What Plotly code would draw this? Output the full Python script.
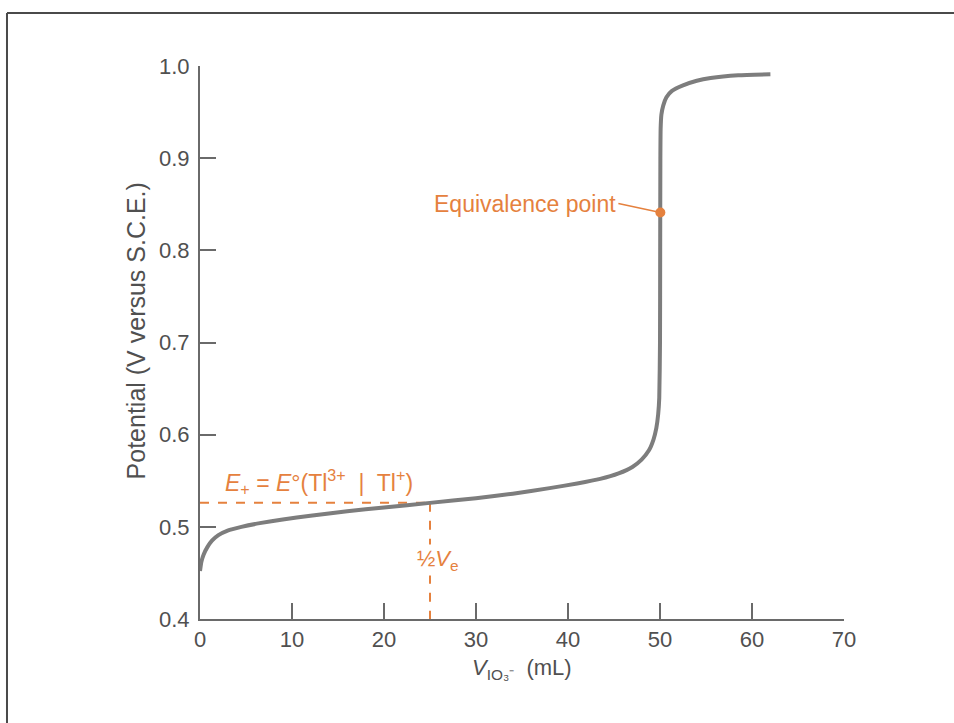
import plotly.graph_objects as go

# Titration curve
volume_ml = [0, 0.15, 0.4, 0.8, 1.3, 2, 3, 4.5, 6.5, 9, 12, 16, 20, 25, 30, 34, 38, 41,
             43.5, 45.5, 47, 48, 48.8, 49.3, 49.6, 49.8, 49.92, 50.0, 50.02, 50.04,
             50.07, 50.15, 50.35, 50.7, 51.3, 52.5, 54, 55.5, 58.5, 62]
potential_v = [0.452, 0.462, 0.470, 0.478, 0.485, 0.491, 0.496, 0.500, 0.504, 0.508,
               0.512, 0.517, 0.521, 0.526, 0.531, 0.536, 0.542, 0.547, 0.552, 0.558,
               0.565, 0.573, 0.583, 0.595, 0.607, 0.622, 0.640, 0.700, 0.800, 0.900,
               0.932, 0.947, 0.957, 0.966, 0.973, 0.979, 0.984, 0.987, 0.990, 0.991]

equiv_v = 50.04
equiv_e = 0.841
half_v = 25
half_e = 0.526

x_ticks = [0, 10, 20, 30, 40, 50, 60, 70]
y_ticks = [0.4, 0.5, 0.6, 0.7, 0.8, 0.9, 1.0]
y_tick_labels = ["0.4", "0.5", "0.6", "0.7", "0.8", "0.9", "1.0"]

ORANGE = "#e5813e"
GRAY = "#7d7d7d"
AXIS = "#6a6a6a"
TEXT = "#505050"
FONT = "Liberation Sans"

fig = go.Figure()

# dashed guides
fig.add_trace(go.Scatter(x=[0, half_v], y=[half_e, half_e], mode="lines",
                         line=dict(color=ORANGE, width=2, dash="dash"),
                         hoverinfo="skip", showlegend=False))
fig.add_trace(go.Scatter(x=[half_v, half_v], y=[half_e, 0.4], mode="lines",
                         line=dict(color=ORANGE, width=2, dash="dash"),
                         hoverinfo="skip", showlegend=False))

fig.add_trace(go.Scatter(x=volume_ml, y=potential_v, mode="lines",
                         line=dict(color=GRAY, width=4, shape="spline", smoothing=0.5),
                         showlegend=False))

fig.add_trace(go.Scatter(x=[equiv_v], y=[equiv_e], mode="markers",
                         marker=dict(color=ORANGE, size=10),
                         showlegend=False))

fig.add_annotation(x=equiv_v, y=equiv_e, xref="x", yref="y",
                   text="Equivalence point", showarrow=True, arrowhead=0,
                   arrowcolor=ORANGE, arrowwidth=1.5, ax=-42, ay=-9,
                   xanchor="right", yanchor="middle",
                   font=dict(family=FONT, size=23, color=ORANGE))

fig.add_annotation(x=2.5, y=half_e, xref="x", yref="y",
                   text="<i>E</i><sub>+</sub> = <i>E</i>°(Tl<sup>3+</sup>  |  Tl<sup>+</sup>)",
                   showarrow=False, xanchor="left", yanchor="bottom", yshift=3,
                   font=dict(family=FONT, size=23, color=ORANGE))

fig.add_annotation(x=half_v + 0.9, y=0.464, xref="x", yref="y",
                   text="½<i>V</i><sub>e</sub>", showarrow=False,
                   bgcolor="white", borderpad=1,
                   font=dict(family=FONT, size=22, color=ORANGE))

fig.add_annotation(x=35, y=0, xref="x", yref="paper", yshift=-66,
                   text="<i>V</i><sub>IO₃⁻</sub>  (mL)", showarrow=False,
                   font=dict(family=FONT, size=22, color=TEXT))

fig.add_annotation(x=0, y=0.52, xref="paper", yref="paper", xshift=-80,
                   text="Potential (V versus S.C.E.)", textangle=-90, showarrow=False,
                   font=dict(family=FONT, size=25, color=TEXT))

# frame lines at the top and left of the page
fig.add_shape(type="line", xref="paper", yref="paper", x0=-0.2997, x1=1.2, y0=1.0958, y1=1.0958,
              line=dict(color="#4a4a4a", width=2))
fig.add_shape(type="line", xref="paper", yref="paper", x0=-0.2997, x1=-0.2997, y0=1.0958, y1=-0.2,
              line=dict(color="#4a4a4a", width=2))

fig.update_xaxes(range=[0, 70], tickvals=x_ticks, ticks="inside", ticklen=16,
                 tickwidth=2, tickcolor=AXIS, showline=True, linecolor=AXIS, linewidth=2,
                 showgrid=False, zeroline=False,
                 tickfont=dict(family=FONT, size=22, color=TEXT))
fig.update_yaxes(range=[0.4, 1.0], tickvals=y_ticks, ticktext=y_tick_labels,
                 ticks="inside", ticklen=16, tickwidth=2, tickcolor=AXIS,
                 showline=True, linecolor=AXIS, linewidth=2, showgrid=False, zeroline=False,
                 ticklabelstandoff=4,
                 tickfont=dict(family=FONT, size=22, color=TEXT))

fig.update_layout(width=954, height=723, margin=dict(l=200, r=110, t=66, b=104),
                  plot_bgcolor="white", paper_bgcolor="white")

fig.write_html("out.html", config={"displayModeBar": False},
               post_script="document.body.style.margin='0';")
